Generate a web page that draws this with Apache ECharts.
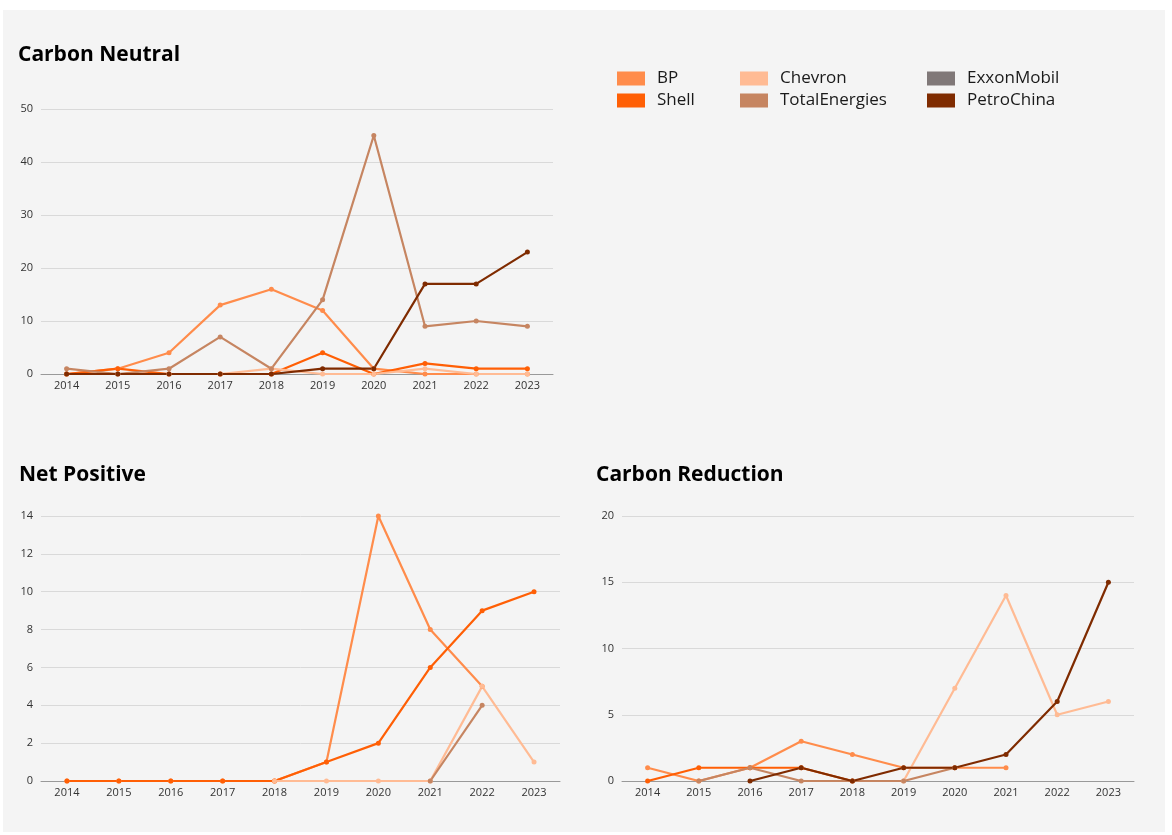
<!DOCTYPE html>
<html>
<head>
<meta charset="utf-8">
<script src="https://cdn.jsdelivr.net/npm/echarts@6/dist/echarts.min.js"></script>
<style>
  html, body { margin: 0; padding: 0; background: #ffffff; }
  #panel { position: absolute; left: 3px; top: 10px; width: 1162px; height: 822px; background: #f4f4f4; }
  #chart { position: absolute; left: 0; top: 0; width: 1172px; height: 835px; }
</style>
</head>
<body>
<div id="panel"></div>
<div id="chart"></div>
<script>
const years = ["2014", "2015", "2016", "2017", "2018", "2019", "2020", "2021", "2022", "2023"];
const companies = ["BP", "Shell", "Chevron", "TotalEnergies", "ExxonMobil", "PetroChina"];
const colors = ["#FF8C4B", "#FF5F05", "#FFBB94", "#C68561", "#807878", "#7F2B00"];

// Carbon Neutral
const neutralBP = [0, 1, 4, 13, 16, 12, 1, 0, 0, 0];
const neutralShell = [0, 1, 0, 0, 0, 4, 0, 2, 1, 1];
const neutralChevron = [0, 0, 0, 0, 1, 0, 0, 1, 0, 0];
const neutralTotal = [1, 0, 1, 7, 1, 14, 45, 9, 10, 9];
const neutralExxon = [];
const neutralPetro = [0, 0, 0, 0, 0, 1, 1, 17, 17, 23];

// Net Positive
const positiveBP = [0, 0, 0, 0, 0, 1, 14, 8, 5, null];
const positiveShell = [0, 0, 0, 0, 0, 1, 2, 6, 9, 10];
const positiveChevron = [null, null, null, null, 0, 0, 0, 0, 5, 1];
const positiveTotal = [null, null, null, null, null, null, null, 0, 4, null];
const positiveExxon = [];
const positivePetro = [];

// Carbon Reduction
const reductionBP = [1, 0, 1, 3, 2, 1, 1, 1, null, null];
const reductionShell = [0, 1, 1, 1, 0, null, null, null, null, null];
const reductionChevron = [null, null, null, null, null, 0, 7, 14, 5, 6];
const reductionTotal = [null, 0, 1, 0, 0, 0, 1, null, null, null];
const reductionExxon = [];
const reductionPetro = [null, null, 0, 1, 0, 1, 1, 2, 6, 15];

const panels = [
  [neutralBP, neutralShell, neutralChevron, neutralTotal, neutralExxon, neutralPetro],
  [positiveBP, positiveShell, positiveChevron, positiveTotal, positiveExxon, positivePetro],
  [reductionBP, reductionShell, reductionChevron, reductionTotal, reductionExxon, reductionPetro]
];
const yMax = [50, 14, 20];
const yStep = [10, 2, 5];

const font = "Open Sans";
const myChart = echarts.init(document.getElementById("chart"));

const series = [];
panels.forEach(function (set, p) {
  set.forEach(function (values, i) {
    series.push({
      name: companies[i],
      type: "line",
      xAxisIndex: p,
      yAxisIndex: p,
      data: values,
      symbol: "circle",
      symbolSize: 5,
      showSymbol: true,
      connectNulls: false,
      lineStyle: { width: 2.2, color: colors[i] },
      itemStyle: { color: colors[i] },
      emphasis: { disabled: true }
    });
  });
});

function legendCol(left, names) {
  return {
    orient: "vertical",
    left: left,
    top: 65,
    icon: "rect",
    itemWidth: 28,
    itemHeight: 14,
    itemGap: 5,
    data: names,
    textStyle: { fontFamily: font, fontSize: 17, color: "#1a1a1a", padding: [0, 0, 0, 7] }
  };
}

const option = {
  animation: false,
  textStyle: { fontFamily: font },
  title: [
    { text: "Carbon Neutral", left: 13, top: 40 },
    { text: "Net Positive", left: 14, top: 460 },
    { text: "Carbon Reduction", left: 591, top: 460 }
  ].map(function (t) {
    t.textStyle = { fontFamily: font, fontSize: 21, fontWeight: "bold", color: "#000" };
    return t;
  }),
  legend: [
    legendCol(612, ["BP", "Shell"]),
    legendCol(735, ["Chevron", "TotalEnergies"]),
    legendCol(922, ["ExxonMobil", "PetroChina"])
  ],
  grid: [
    { left: 41, top: 109, width: 512, height: 265 },
    { left: 41, top: 516, width: 519, height: 265 },
    { left: 622, top: 516, width: 512, height: 265 }
  ],
  xAxis: [0, 1, 2].map(function (p) {
    return {
      type: "category",
      gridIndex: p,
      data: years,
      boundaryGap: true,
      axisTick: { show: false },
      axisLine: { lineStyle: { color: "#999", width: 1 } },
      axisLabel: { fontSize: 11, color: "#333", margin: 6 }
    };
  }),
  yAxis: [0, 1, 2].map(function (p) {
    return {
      type: "value",
      gridIndex: p,
      min: 0,
      max: yMax[p],
      interval: yStep[p],
      axisLine: { show: false },
      axisTick: { show: false },
      axisLabel: { fontSize: 11, color: "#333", margin: 8 },
      splitLine: { lineStyle: { color: "#d9d9d9", width: 1 } }
    };
  }),
  series: series
};

myChart.setOption(option);
</script>
</body>
</html>
